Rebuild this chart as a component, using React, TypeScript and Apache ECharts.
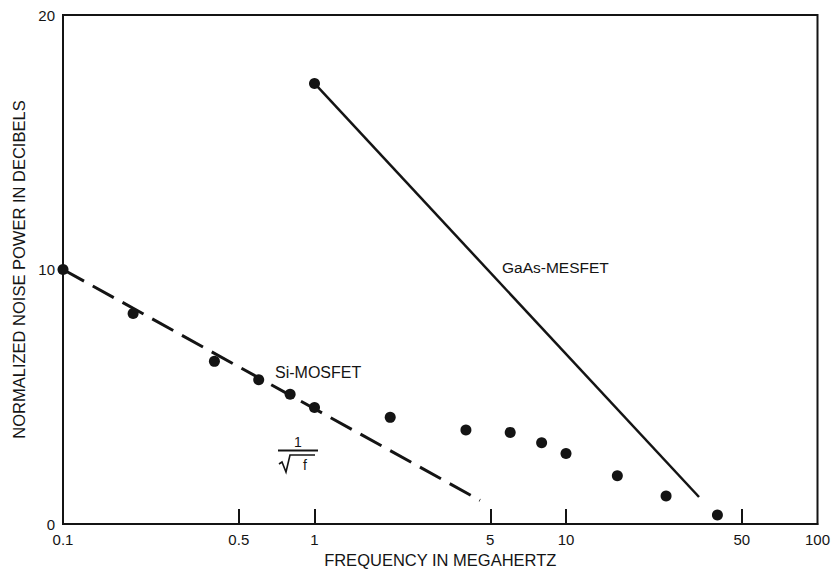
import React, { useEffect, useRef } from "react";
import * as echarts from "echarts";

// Measured points for the Si-MOSFET (frequency in MHz, normalized noise power in dB)
const siFreq = [0.1, 0.19, 0.4, 0.6, 0.8, 1, 2, 4, 6, 8, 10, 16, 25, 40];
const siNoise = [10, 8.27, 6.39, 5.67, 5.1, 4.58, 4.19, 3.69, 3.6, 3.19, 2.77, 1.9, 1.1, 0.35];

// 1/sqrt(f) reference line (dashed)
const refFreq = [0.1, 4.55];
const refNoise = [10, 0.93];

// GaAs-MESFET line
const gaasFreq = [1, 33.8];
const gaasNoise = [17.31, 1.06];

// Axis ticks
const xLabelValues = [0.1, 0.5, 1, 5, 10, 50, 100];
const xTickValues = [0.5, 1, 5, 10, 50];
const xLabelText = ["0.1", "0.5", "1", "5", "10", "50", "100"];
const yLabelValues = [0, 10, 20];

const INK = "#141414";
const FONT = "'Liberation Sans', Arial, Helvetica, sans-serif";

export default function App() {
  const ref = useRef<HTMLDivElement>(null);

  useEffect(() => {
    if (!ref.current) return;
    const chart = echarts.init(ref.current, undefined, { renderer: "svg" });

    const zip = (xs: number[], ys: number[]) => xs.map((x, i) => [x, ys[i]]);

    const gaasData = zip(gaasFreq, gaasNoise).map((p, i) =>
      i === 0 ? { value: p, symbol: "circle" } : { value: p, symbol: "none" }
    );

    const option: any = {
      animation: false,
      backgroundColor: "#ffffff",
      grid: {
        left: 63,
        top: 15,
        right: 13.5,
        bottom: 45,
        containLabel: false,
        outerBoundsMode: "none",
        show: true,
        borderColor: INK,
        borderWidth: 2,
        backgroundColor: "transparent",
      },
      xAxis: {
        type: "log",
        logBase: 10,
        min: 0.1,
        max: 100,
        name: "FREQUENCY IN MEGAHERTZ",
        nameLocation: "middle",
        nameGap: 28,
        nameMoveOverlap: false,
        nameTextStyle: { color: INK, fontSize: 16.5, fontFamily: FONT, lineHeight: 16 },
        axisLine: { show: true, lineStyle: { color: INK, width: 2 } },
        axisTick: {
          show: true,
          inside: true,
          length: 15,
          customValues: xTickValues,
          lineStyle: { color: INK, width: 2 },
        },
        minorTick: { show: false },
        axisLabel: {
          customValues: xLabelValues,
          color: INK,
          fontSize: 15,
          fontFamily: FONT,
          margin: 8,
          formatter: (v: number) => {
            let best = 0;
            let bd = Infinity;
            xLabelValues.forEach((lv, i) => {
              const d = Math.abs(Math.log10(lv) - Math.log10(v));
              if (d < bd) {
                bd = d;
                best = i;
              }
            });
            return xLabelText[best];
          },
        },
        splitLine: { show: false },
      },
      yAxis: {
        type: "value",
        min: 0,
        max: 20,
        interval: 10,
        name: "NORMALIZED NOISE POWER IN DECIBELS",
        nameLocation: "middle",
        nameGap: 36,
        nameMoveOverlap: false,
        nameRotate: 90,
        nameTextStyle: { color: INK, fontSize: 16.5, fontFamily: FONT },
        axisLine: { show: true, lineStyle: { color: INK, width: 2 } },
        axisTick: { show: false },
        axisLabel: {
          customValues: yLabelValues,
          color: INK,
          fontSize: 15,
          fontFamily: FONT,
          margin: 8,
        },
        splitLine: { show: false },
      },
      series: [
        {
          name: "1/sqrt(f)",
          type: "line",
          data: zip(refFreq, refNoise),
          showSymbol: false,
          symbol: "none",
          lineStyle: { color: INK, width: 3, type: [24, 10] },
          z: 2,
        },
        {
          name: "GaAs-MESFET",
          type: "line",
          data: gaasData,
          symbolSize: 11,
          showSymbol: true,
          itemStyle: { color: INK, opacity: 1 },
          lineStyle: { color: INK, width: 2.5 },
          z: 3,
        },
        {
          name: "Si-MOSFET",
          type: "scatter",
          data: zip(siFreq, siNoise),
          symbol: "circle",
          symbolSize: 11,
          itemStyle: { color: INK, opacity: 1 },
          z: 4,
        },
      ],
      graphic: [
        {
          type: "text",
          left: 502,
          top: 259,
          style: { text: "GaAs-MESFET", fill: INK, fontSize: 15.5, fontFamily: FONT },
        },
        {
          type: "text",
          left: 275,
          top: 364,
          style: { text: "Si-MOSFET", fill: INK, fontSize: 16, fontFamily: FONT },
        },
        {
          type: "text",
          x: 298,
          y: 442,
          style: {
            text: "1",
            fill: INK,
            fontSize: 14,
            fontFamily: FONT,
            align: "center",
            verticalAlign: "middle",
          },
        },
        {
          type: "line",
          shape: { x1: 278, y1: 450.5, x2: 318, y2: 450.5 },
          style: { stroke: INK, lineWidth: 2 },
        },
        {
          type: "polyline",
          shape: {
            points: [
              [279, 464],
              [282, 462],
              [286, 472],
              [290, 455],
              [315, 455],
            ],
          },
          style: { stroke: INK, lineWidth: 1.6, fill: "none" },
        },
        {
          type: "text",
          x: 305,
          y: 465,
          style: {
            text: "f",
            fill: INK,
            fontSize: 14,
            fontFamily: FONT,
            align: "center",
            verticalAlign: "middle",
          },
        },
      ],
    };

    chart.setOption(option);
    return () => chart.dispose();
  }, []);

  return (
    <div
      ref={ref}
      style={{ position: "fixed", left: 0, top: 0, width: 831, height: 569, background: "#fff" }}
    />
  );
}
